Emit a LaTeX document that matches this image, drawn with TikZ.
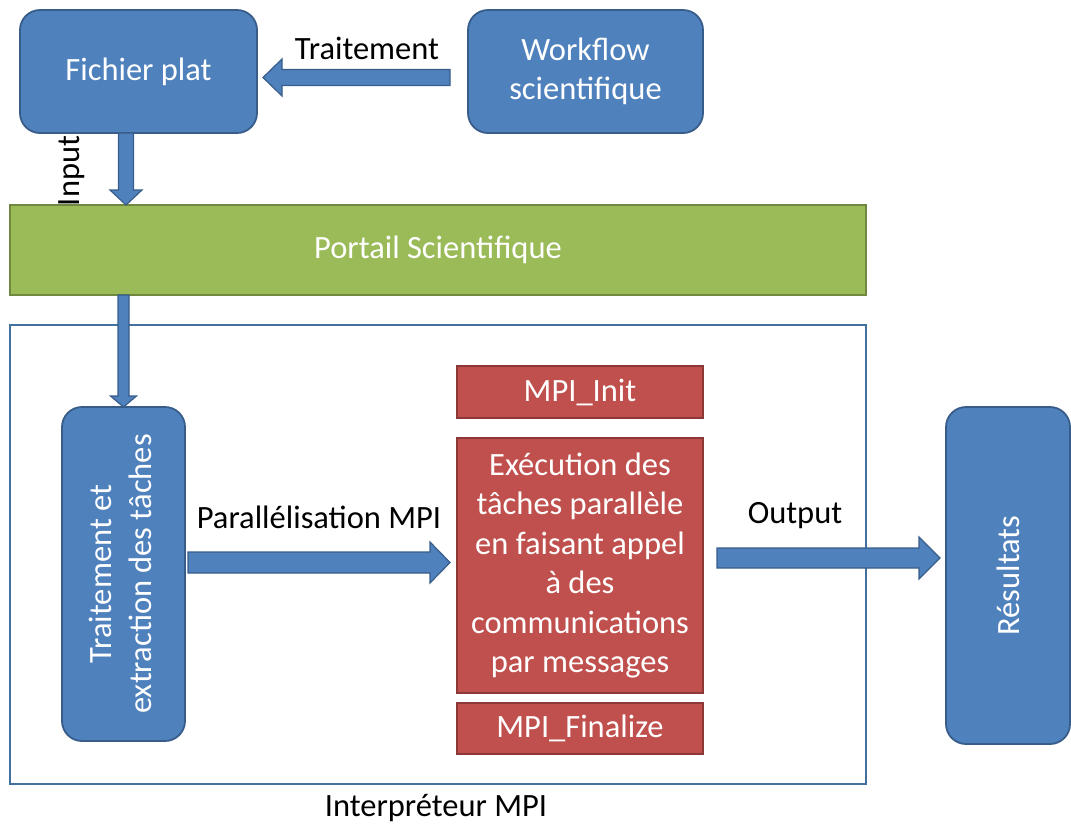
\documentclass[tikz,border=0pt]{standalone}
\usepackage{fontspec}
\setmainfont{Carlito}
\usepackage{graphicx}
\usetikzlibrary{calc}

\definecolor{boxblue}{HTML}{4F81BD}
\definecolor{boxblueedge}{HTML}{385D8A}
\definecolor{framecol}{HTML}{41719C}
\definecolor{portalgreen}{HTML}{9BBB59}
\definecolor{portalgreenedge}{HTML}{71893F}
\definecolor{mpired}{HTML}{C0504D}
\definecolor{mpirededge}{HTML}{8C3836}

% Block arrow from tail #1 to tip #2:
% #3 half shaft width, #4 half head width, #5 head length
\newcommand{\barrowpath}[5]{%
  \coordinate (bah) at ($(#2)!#5!(#1)$);
  \draw[barrow] ($(#1)!#3!90:(#2)$) -- ($(bah)!#3!90:(#2)$) -- ($(bah)!#4!90:(#2)$)
    -- (#2) -- ($(bah)!#4!-90:(#2)$) -- ($(bah)!#3!-90:(#2)$) -- ($(#1)!#3!-90:(#2)$) -- cycle;%
}

\begin{document}
\begin{tikzpicture}[x=1pt,y=-1pt,
  every node/.style={font=\fontsize{32.5}{39.5}\selectfont, inner sep=0pt, outer sep=0pt},
  bluebox/.style={draw=boxblueedge, fill=boxblue, line width=1.8pt, rounded corners=20pt,
    text=white, align=center},
  redbox/.style={draw=mpirededge, fill=mpired, line width=1.8pt, text=white, align=center},
  portalbar/.style={draw=portalgreenedge, fill=portalgreen, line width=1.8pt, text=white},
  framebox/.style={draw=framecol, line width=1.6pt},
  lbl/.style={text=black},
  barrow/.style={draw=boxblueedge, fill=boxblue, line width=1.2pt, line join=miter}
]
\useasboundingbox (0,0) rectangle (1071,823);

% top row
\node[bluebox, minimum width=237, minimum height=123] (fp) at (138.5,71.5) {Fichier plat};
\node[bluebox, minimum width=235, minimum height=123] (wf) at (585.5,71.5) {Workflow\\scientifique};
\node[lbl] (ltrait) at (367,48) {Traitement};
\node[lbl, rotate=90] (linput) at (72,171) {Input};

% portal bar
\node[portalbar, minimum width=856, minimum height=90] (portal) at (438,250) {Portail Scientifique};

% MPI interpreter frame
\node[framebox, minimum width=856, minimum height=459] (interp) at (438,554.5) {};
\node[lbl] (linterp) at (436,808) {Interpréteur MPI};

% task extraction box
\node[bluebox, minimum width=123, minimum height=334] (tb) at (123.5,574)
  {\rotatebox{90}{\begin{tabular}{@{}c@{}}Traitement et\\extraction des tâches\end{tabular}}};

% MPI boxes
\node[redbox, minimum width=246, minimum height=52] (init) at (580,392) {MPI\_Init};
\node[redbox, minimum width=246, minimum height=255] (exec) at (580,565.5)
  {Exécution des\\tâches parallèle\\en faisant appel\\à des\\communications\\par messages};
\node[redbox, minimum width=246, minimum height=51] (final) at (580,728.5) {MPI\_Finalize};

% results
\node[bluebox, minimum width=124, minimum height=337] (res) at (1008,575.5)
  {\rotatebox{90}{Résultats}};

\node[lbl] (lpar) at (319,517) {Parallélisation MPI};
\node[lbl] (lout) at (795,516) {Output};

% arrows
\coordinate (a1s) at ($(wf.west)+(-18,6)$);
\coordinate (a1e) at ($(a1s -| fp.east)+(6,0)$);
\barrowpath{a1s}{a1e}{8pt}{18.5pt}{19pt}

\coordinate (a2s) at ($(fp.south)+(-12.5,0)$);
\coordinate (a2e) at (a2s |- portal.north);
\barrowpath{a2s}{a2e}{7.5pt}{16pt}{15pt}

\coordinate (a3s) at (tb.north |- portal.south);
\barrowpath{a3s}{tb.north}{5.5pt}{13pt}{11pt}

\coordinate (a4s) at ($(tb.east)+(3,-11.5)$);
\coordinate (a4e) at ($(a4s -| exec.west)+(-7,0)$);
\barrowpath{a4s}{a4e}{10.5pt}{20.5pt}{20pt}

\coordinate (a5s) at ($(exec.east)+(14,-7.5)$);
\coordinate (a5e) at ($(a5s -| res.west)+(-6,0)$);
\barrowpath{a5s}{a5e}{10pt}{21pt}{21pt}
\end{tikzpicture}
\end{document}
